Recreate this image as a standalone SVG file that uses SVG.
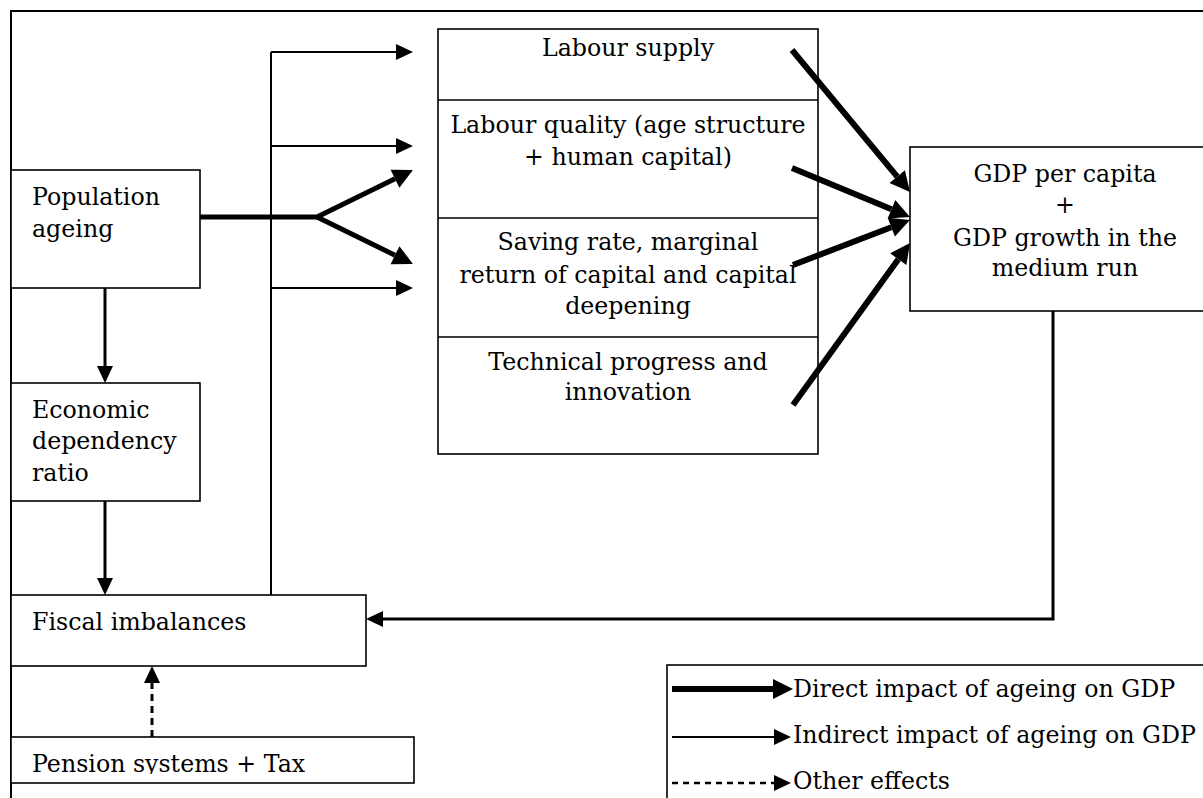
<svg xmlns="http://www.w3.org/2000/svg" width="1203" height="798" viewBox="0 0 1203 798">
<style>
text{font-family:"DejaVu Serif","Liberation Serif",serif;font-size:23.7px;fill:#000}
.c{text-anchor:middle}
.box{fill:#fff;stroke:#000;stroke-width:1.6}
.ln{fill:none;stroke:#000}
</style>
<defs>
<marker id="a" markerUnits="userSpaceOnUse" markerWidth="17" markerHeight="16" refX="0" refY="8" orient="auto" overflow="visible"><path d="M0,0 L17,8 L0,16 z" fill="#000"/></marker>
<marker id="b" markerUnits="userSpaceOnUse" markerWidth="20" markerHeight="20" refX="0" refY="10" orient="auto" overflow="visible"><path d="M0,0 L20,10 L0,20 z" fill="#000"/></marker>
<clipPath id="pc"><rect x="11" y="737" width="403" height="37"/></clipPath>
</defs>
<rect width="1203" height="798" fill="#fff"/>
<g id="frame"><path class="ln" d="M11,798 V11 H1203" stroke-width="2"/></g>

<g id="population"><rect class="box" x="11" y="170" width="189" height="118"/><text x="32" y="205">Population</text><text x="32" y="237">ageing</text></g>
<g id="dependency"><rect class="box" x="11" y="383" width="189" height="118"/><text x="32" y="418">Economic</text><text x="32" y="449">dependency</text><text x="32" y="481">ratio</text></g>
<g id="fiscal"><rect class="box" x="11" y="595" width="355" height="71"/><text x="32" y="630">Fiscal imbalances</text></g>
<g id="pension"><rect class="box" x="11" y="737" width="403" height="46"/><text x="32" y="772" clip-path="url(#pc)">Pension systems + Tax</text></g>

<g id="factors">
<rect class="box" x="438" y="29" width="380" height="425"/>
<path class="ln" stroke-width="1.6" d="M438,100 H818 M438,218 H818 M438,337 H818"/>
<text class="c" x="628" y="56">Labour supply</text>
<text class="c" x="628" y="133">Labour quality (age structure</text>
<text class="c" x="628" y="165">+ human capital)</text>
<text class="c" x="628" y="250">Saving rate, marginal</text>
<text class="c" x="628" y="283">return of capital and capital</text>
<text class="c" x="628" y="314">deepening</text>
<text class="c" x="628" y="370">Technical progress and</text>
<text class="c" x="628" y="400">innovation</text>
</g>

<g id="gdp"><rect class="box" x="910" y="147" width="320" height="164"/>
<text class="c" x="1065" y="182">GDP per capita</text>
<text class="c" x="1065" y="213">+</text>
<text class="c" x="1065" y="246">GDP growth in the</text>
<text class="c" x="1065" y="276">medium run</text></g>

<g id="legend"><rect class="box" x="667" y="665" width="600" height="200"/>
<path class="ln" stroke-width="6" d="M672,689 H773" marker-end="url(#b)"/>
<path class="ln" stroke-width="2" d="M672,737 H774" marker-end="url(#a)"/>
<path class="ln" stroke-width="2.5" stroke-dasharray="6 5" d="M672,783 H774" marker-end="url(#a)"/>
<text x="793" y="697">Direct impact of ageing on GDP</text>
<text x="793" y="743">Indirect impact of ageing on GDP</text>
<text x="793" y="789">Other effects</text>
</g>

<g id="connectors">
<path class="ln" stroke-width="2" d="M271,595 V52"/>
<path class="ln" stroke-width="2" d="M271,52 H396" marker-end="url(#a)"/>
<path class="ln" stroke-width="2" d="M271,146 H396" marker-end="url(#a)"/>
<path class="ln" stroke-width="2" d="M271,288 H396" marker-end="url(#a)"/>
<path class="ln" stroke-width="3" d="M105,288 V366" marker-end="url(#a)"/>
<path class="ln" stroke-width="3" d="M105,501 V578" marker-end="url(#a)"/>
<path class="ln" stroke-width="3" stroke-dasharray="7 5" d="M152,737 V683" marker-end="url(#a)"/>
<path class="ln" stroke-width="3" d="M1053,311 V619 H383" marker-end="url(#a)"/>
<path class="ln" stroke-width="5" d="M200,217 H317 L395,178.8" marker-end="url(#b)"/>
<path class="ln" stroke-width="5" d="M317,217 L395,255.2" marker-end="url(#b)"/>
<path class="ln" stroke-width="6" d="M792,50 L897.2,176.6" marker-end="url(#b)"/>
<path class="ln" stroke-width="6" d="M792,168 L891.5,209.3" marker-end="url(#b)"/>
<path class="ln" stroke-width="6" d="M793,265 L891.3,227.2" marker-end="url(#b)"/>
<path class="ln" stroke-width="6" d="M793,405 L898.3,259.2" marker-end="url(#b)"/>
</g>
</svg>
